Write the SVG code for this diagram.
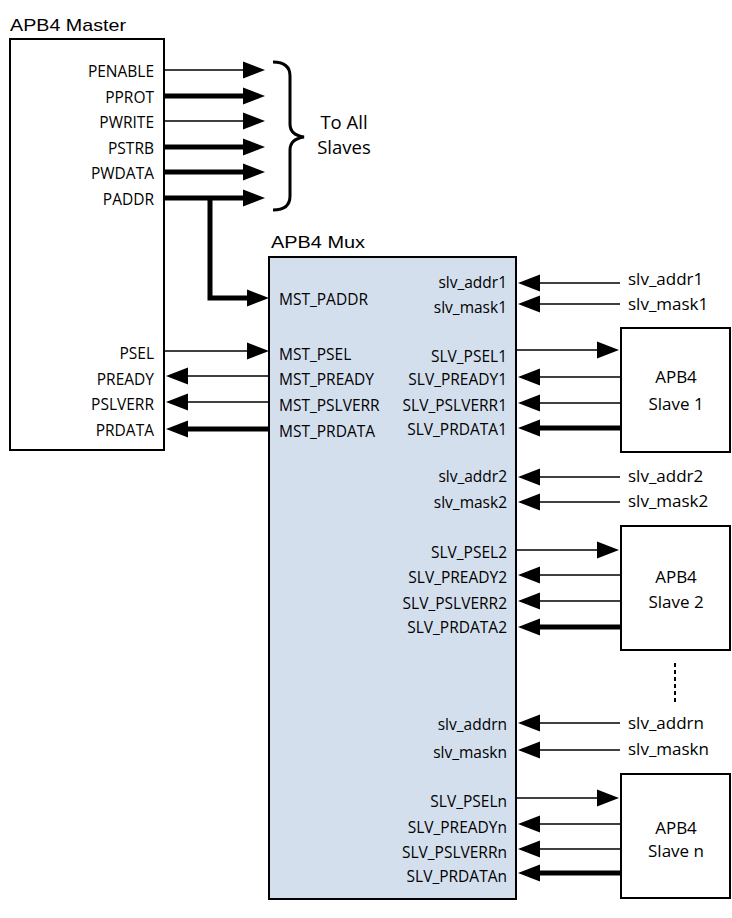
<svg xmlns="http://www.w3.org/2000/svg" width="732" height="918" viewBox="0 0 732 918">
<style>
.title{font-family:"Liberation Sans",Arial,sans-serif;font-size:17px;fill:#000}
.lbl{font-family:"Open Sans",Lato,sans-serif;font-size:15.5px;fill:#000}
.ext{font-family:"Open Sans",Lato,sans-serif;font-size:17px;fill:#000}
.big{font-family:"Open Sans",Lato,sans-serif;font-size:18.5px;fill:#000}
.sl{font-family:"Open Sans",Lato,sans-serif;font-size:17px;fill:#000}
.end{text-anchor:end}
.mid{text-anchor:middle}
.box{fill:#fff;stroke:#000;stroke-width:2}
.mux{fill:#D4DFEE;stroke:#000;stroke-width:2}
.thin{fill:none;stroke:#000;stroke-width:1.7;marker-end:url(#ah)}
.thick{fill:none;stroke:#000;stroke-width:5;marker-end:url(#ah);stroke-linejoin:miter}
</style>
<defs>
<marker id="ah" markerUnits="userSpaceOnUse" markerWidth="22" markerHeight="18" refX="0" refY="9" orient="auto" viewBox="0 0 22 18">
<path d="M0,0.5 L22,9 L0,17.5 z" fill="#000"/>
</marker>
</defs>
<rect width="732" height="918" fill="#fff"/>

<g id="master">
<text class="title" x="10" y="31" textLength="116" lengthAdjust="spacingAndGlyphs">APB4 Master</text>
<rect class="box" x="10" y="39" width="154" height="411"/>
<text class="lbl end" x="154" y="77">PENABLE</text>
<text class="lbl end" x="154" y="103">PPROT</text>
<text class="lbl end" x="154" y="128">PWRITE</text>
<text class="lbl end" x="154" y="154">PSTRB</text>
<text class="lbl end" x="154" y="179">PWDATA</text>
<text class="lbl end" x="154" y="205">PADDR</text>
<text class="lbl end" x="154" y="359">PSEL</text>
<text class="lbl end" x="154" y="385">PREADY</text>
<text class="lbl end" x="154" y="410">PSLVERR</text>
<text class="lbl end" x="154" y="436">PRDATA</text>
</g>

<g id="to-all-slaves">
<path d="M273,62 Q290,62 290,76 L290,124 Q290,135 304,137 Q290,139 290,150 L290,196 Q290,210 273,210" fill="none" stroke="#000" stroke-width="3"/>
<text class="big mid" x="344" y="129">To All</text>
<text class="big mid" x="344" y="154">Slaves</text>
</g>

<g id="mux">
<text class="title" x="271" y="248" textLength="94" lengthAdjust="spacingAndGlyphs">APB4 Mux</text>
<rect class="mux" x="269" y="257" width="247" height="642"/>
<text class="lbl" x="279" y="305">MST_PADDR</text>
<text class="lbl" x="279" y="360">MST_PSEL</text>
<text class="lbl" x="279" y="385">MST_PREADY</text>
<text class="lbl" x="279" y="411">MST_PSLVERR</text>
<text class="lbl" x="279" y="437">MST_PRDATA</text>

<text class="lbl end" x="507" y="288">slv_addr1</text>
<text class="lbl end" x="507" y="313">slv_mask1</text>
<text class="lbl end" x="507" y="362">SLV_PSEL1</text>
<text class="lbl end" x="507" y="385">SLV_PREADY1</text>
<text class="lbl end" x="507" y="411">SLV_PSLVERR1</text>
<text class="lbl end" x="507" y="435">SLV_PRDATA1</text>

<text class="lbl end" x="507" y="482">slv_addr2</text>
<text class="lbl end" x="507" y="508">slv_mask2</text>
<text class="lbl end" x="507" y="558">SLV_PSEL2</text>
<text class="lbl end" x="507" y="583">SLV_PREADY2</text>
<text class="lbl end" x="507" y="609">SLV_PSLVERR2</text>
<text class="lbl end" x="507" y="633">SLV_PRDATA2</text>

<text class="lbl end" x="507" y="730">slv_addrn</text>
<text class="lbl end" x="507" y="758">slv_maskn</text>
<text class="lbl end" x="507" y="807">SLV_PSELn</text>
<text class="lbl end" x="507" y="833">SLV_PREADYn</text>
<text class="lbl end" x="507" y="858">SLV_PSLVERRn</text>
<text class="lbl end" x="507" y="882">SLV_PRDATAn</text>
</g>

<g id="slave1">
<rect class="box" x="621" y="328" width="109" height="124"/>
<text class="sl mid" x="676" y="383">APB4</text>
<text class="sl mid" x="676" y="410">Slave 1</text>
</g>
<g id="slave2">
<rect class="box" x="621" y="526" width="109" height="124"/>
<text class="sl mid" x="676" y="583">APB4</text>
<text class="sl mid" x="676" y="608">Slave 2</text>
</g>
<g id="slaven">
<rect class="box" x="621" y="774" width="109" height="124"/>
<text class="sl mid" x="676" y="834">APB4</text>
<text class="sl mid" x="676" y="857">Slave n</text>
</g>

<g id="ext-labels">
<text class="ext" x="628" y="285">slv_addr1</text>
<text class="ext" x="628" y="310">slv_mask1</text>
<text class="ext" x="628" y="482">slv_addr2</text>
<text class="ext" x="628" y="507">slv_mask2</text>
<text class="ext" x="628" y="729">slv_addrn</text>
<text class="ext" x="628" y="755">slv_maskn</text>
</g>

<g id="connectors">
<path class="thin" d="M164,70 H243"/>
<path class="thick" d="M164,96 H243"/>
<path class="thin" d="M164,121 H243"/>
<path class="thick" d="M164,147 H243"/>
<path class="thick" d="M164,172 H243"/>
<path class="thick" d="M164,198 H243"/>
<path class="thick" d="M210,198 V298 H247"/>

<path class="thin" d="M164,351 H247"/>
<path class="thin" d="M269,376 H188"/>
<path class="thin" d="M269,402 H188"/>
<path class="thick" d="M269,429 H188"/>

<path class="thin" d="M620,283 H540"/>
<path class="thin" d="M620,304 H540"/>
<path class="thin" d="M516,350 H597"/>
<path class="thin" d="M621,377 H540"/>
<path class="thin" d="M621,403 H540"/>
<path class="thick" d="M621,428 H540"/>

<path class="thin" d="M620,477 H540"/>
<path class="thin" d="M620,502 H540"/>
<path class="thin" d="M516,550 H597"/>
<path class="thin" d="M621,575 H540"/>
<path class="thin" d="M621,601 H540"/>
<path class="thick" d="M621,627 H540"/>

<path class="thin" d="M620,723 H540"/>
<path class="thin" d="M620,750 H540"/>
<path class="thin" d="M516,798 H597"/>
<path class="thin" d="M621,824 H540"/>
<path class="thin" d="M621,849 H540"/>
<path class="thick" d="M621,873 H540"/>

<path d="M675,663 V703" fill="none" stroke="#000" stroke-width="2" stroke-dasharray="4,3"/>
</g>
</svg>
